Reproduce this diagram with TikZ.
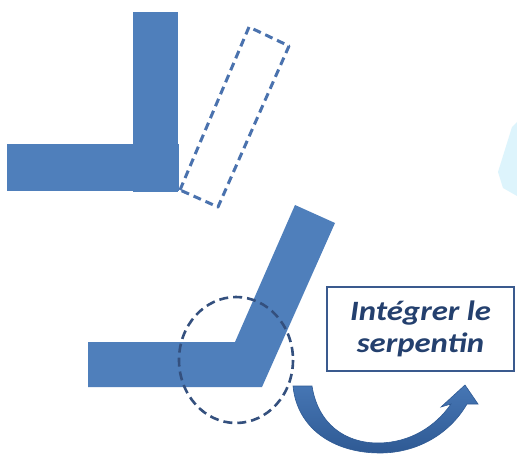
\documentclass[tikz,border=0pt]{standalone}
\usepackage{fontspec}
\setmainfont{Carlito}
\newfontfamily\lblfont[FakeStretch=1.17]{Carlito}
\begin{document}
\begin{tikzpicture}[x=1pt,y=-1pt,
  barfill/.style={fill=barblue, draw=none},
  ghost/.style={draw=ghostblue, line width=3pt, dash pattern=on 8pt off 5pt, line join=round},
  zone/.style={draw=circblue, line width=2.6pt, dash pattern=on 9pt off 5pt},
  labelbox/.style={draw=boxblue, line width=2.4pt, fill=white, minimum width=187pt, minimum height=84pt,
     align=center, font=\lblfont\bfseries\itshape\fontsize{28}{32}\selectfont, text=textblue, inner sep=0pt}]
\definecolor{barblue}{HTML}{4F7FBB}
\definecolor{ghostblue}{HTML}{4A72AE}
\definecolor{circblue}{HTML}{34507E}
\definecolor{boxblue}{HTML}{3A5A8E}
\definecolor{textblue}{HTML}{24406E}
\definecolor{arrowblue}{HTML}{4676B4}
\definecolor{arrowdark}{HTML}{2F5A94}
\useasboundingbox (0,0) rectangle (517,457);
\fill[white] (0,0) rectangle (517,457);
% faint shape on the right edge
\fill[cyan!22, opacity=0.6] (512,127) -- (498,172) -- (503,188) -- (517,196) -- (517,122) -- cycle;
% top L shape
\fill[barfill] (133,12) rectangle (178,192);
\fill[barfill] (7,144) rectangle (179,191);
% dashed rotated rectangle
\draw[ghost] (180,190) -- (249,27) -- (289,46) -- (218,207) -- cycle;
% bottom bent shape
\fill[barfill] (88,342) -- (235,342) -- (295,205) -- (335,223) -- (262,387) -- (88,387) -- cycle;
% dashed circle
\draw[zone] (236,360) ellipse [x radius=57, y radius=63];
% curved arrow
\shade[top color=arrowblue, bottom color=arrowdark, draw=arrowdark, line width=0.6pt]
  (293,386) -- (312,386)
  .. controls (318,424) and (345,443) .. (378,443)
  .. controls (410,443) and (436,426) .. (451,404)
  -- (441,407) -- (465,385) -- (478,404) -- (467,404)
  .. controls (449,435) and (416,453) .. (380,453)
  .. controls (333,453) and (297,428) .. (293,386) -- cycle;
% label
\node[labelbox] (lbl) at (420.5,329) {Intégrer le\\serpentin};
\end{tikzpicture}
\end{document}
